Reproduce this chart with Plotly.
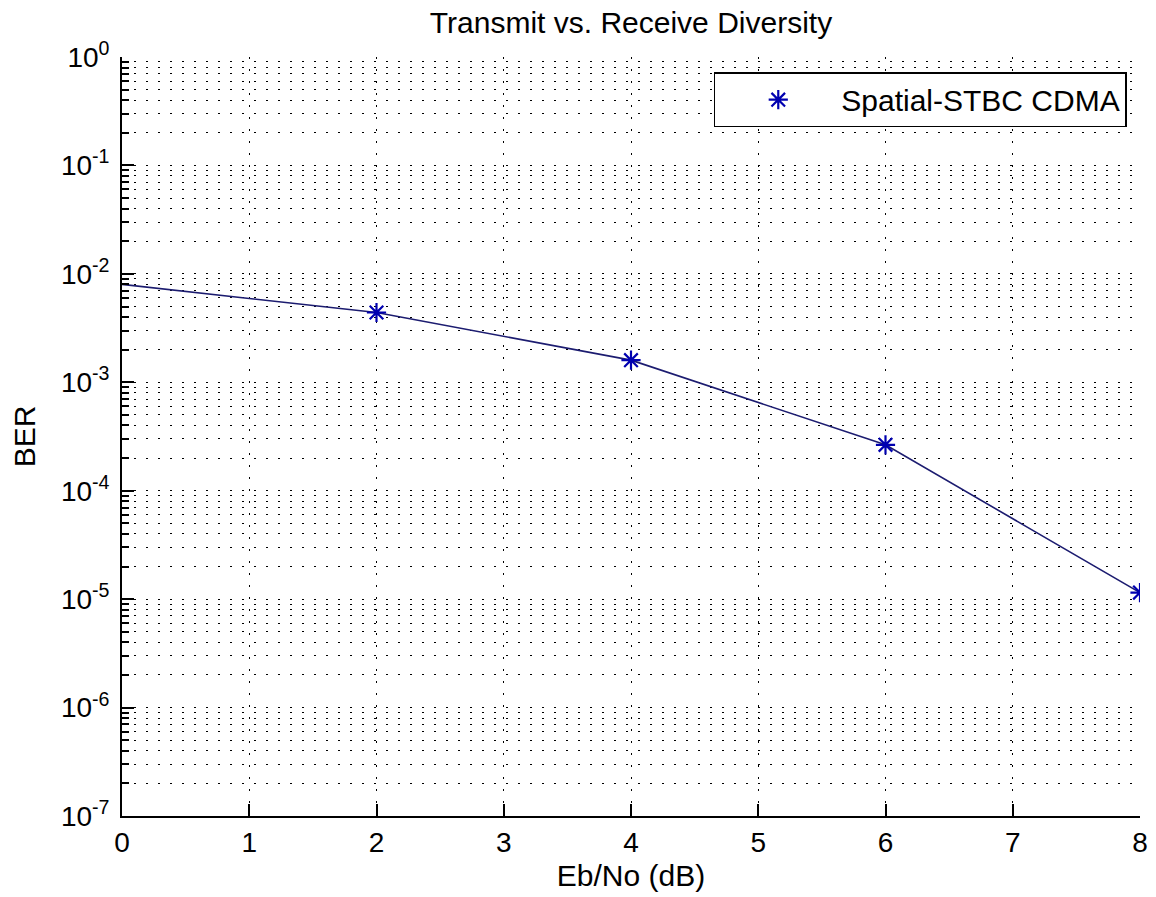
import plotly.graph_objects as go

# Data
ebno_line = [0, 2, 4, 6, 8]
ber_line = [8.0e-3, 4.4e-3, 1.6e-3, 2.65e-4, 1.15e-5]
ebno_marks = [2, 4, 6, 8]
ber_marks = [4.4e-3, 1.6e-3, 2.65e-4, 1.15e-5]
series_name = "Spatial-STBC CDMA"
x_ticks = [0, 1, 2, 3, 4, 5, 6, 7, 8]
y_exponents = [0, -1, -2, -3, -4, -5, -6, -7]

FONT = "Liberation Sans, Arial, sans-serif"
GRID_DASH = "1.5px,10.5px"

fig = go.Figure()
fig.add_trace(go.Scatter(
    x=ebno_line, y=ber_line, mode="lines",
    line=dict(color="#1c1c70", width=1.6),
    showlegend=False, hoverinfo="skip",
))
fig.add_trace(go.Scatter(
    x=ebno_marks, y=ber_marks, mode="markers", name=series_name,
    marker=dict(symbol="asterisk-open", size=16, color="#0000b0",
                line=dict(color="#0000b0", width=2.2)),
))

fig.update_layout(
    width=1156, height=897,
    margin=dict(l=122, r=8, t=57, b=81),
    paper_bgcolor="white", plot_bgcolor="white",
    font=dict(family=FONT, size=28, color="black"),
    title=dict(text="Transmit vs. Receive Diversity", x=0.5, xref="paper",
               xanchor="center", y=1 - 22 / 897, yanchor="middle",
               font=dict(family=FONT, size=30, color="black")),
    legend=dict(x=0.987, y=0.98, xanchor="right", yanchor="top",
                bgcolor="white", bordercolor="black", borderwidth=1.5,
                font=dict(family=FONT, size=30, color="black"),
                itemwidth=116),
    showlegend=True,
)

fig.update_xaxes(
    range=[0, 8], tickvals=x_ticks, ticktext=[str(v) for v in x_ticks],
    ticks="inside", ticklen=12, tickwidth=1.5, tickcolor="black",
    showline=True, linecolor="black", linewidth=1.8, mirror=False,
    showgrid=True, gridcolor="black", gridwidth=1.3, griddash=GRID_DASH,
    zeroline=False,
    title=dict(text="Eb/No (dB)", font=dict(family=FONT, size=30), standoff=8),
    tickfont=dict(family=FONT, size=28),
)

fig.update_yaxes(
    type="log", range=[-7, 0],
    tickvals=[10 ** e for e in y_exponents],
    ticktext=["10<sup>%d</sup>" % e for e in y_exponents],
    ticks="inside", ticklen=12, tickwidth=1.5, tickcolor="black",
    showline=True, linecolor="black", linewidth=1.8, mirror=False,
    showgrid=True, gridcolor="black", gridwidth=1.3, griddash=GRID_DASH,
    zeroline=False, ticklabelstandoff=5,
    minor=dict(dtick="D1", ticks="inside", ticklen=7, tickwidth=1.5,
               tickcolor="black", showgrid=True, gridcolor="black",
               gridwidth=1.3, griddash=GRID_DASH),
    title=dict(text="BER", font=dict(family=FONT, size=30), standoff=16),
    tickfont=dict(family=FONT, size=28),
)

fig.write_html("out.html")
